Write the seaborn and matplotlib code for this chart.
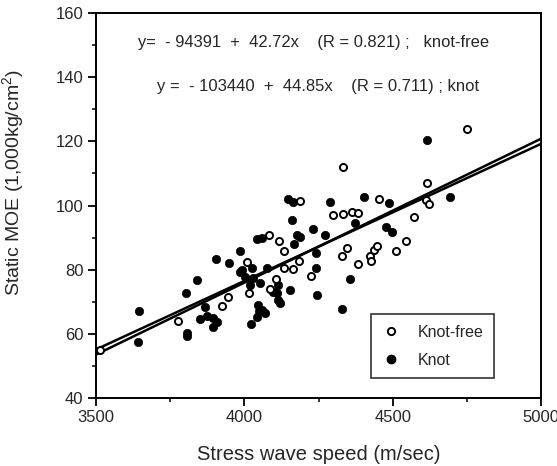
import numpy as np
import pandas as pd
import matplotlib
matplotlib.use("Agg")
import matplotlib.pyplot as plt
from matplotlib.lines import Line2D
from matplotlib.ticker import MultipleLocator
import seaborn as sns

# ---- data ----
free_speed = [3515, 3778, 3926, 3946, 4008, 4017, 4084, 4118, 4135, 4106, 4087, 4135,
              4163, 4185, 4225, 4188, 4300, 4334, 4362, 4384, 4334, 4345, 4328, 4384,
              4424, 4427, 4437, 4448, 4455, 4511, 4544, 4572, 4612, 4622, 4617, 4752]
free_moe = [55.0, 64.0, 68.6, 71.5, 82.3, 72.7, 90.8, 88.8, 85.8, 77.1, 74.1, 80.6,
            80.1, 82.8, 78.1, 101.5, 97.0, 97.3, 98.1, 97.6, 112.0, 86.9, 84.2, 81.8,
            84.3, 82.7, 86.1, 87.3, 102.0, 85.9, 88.8, 96.3, 101.8, 100.6, 107.0, 124.0]

knot_speed = [3640, 3646, 3802, 3807, 3807, 3839, 3851, 3875, 3895, 3908, 3895, 3867,
              3904, 3949, 3985, 3991, 4025, 4002, 4030, 4019, 4053, 3985, 4042, 4058,
              4075, 4115, 4154, 4109, 4115, 4047, 4049, 4044, 4058, 4070, 4022, 4120,
              4168, 4177, 4189, 4160, 4148, 4165, 4233, 4273, 4289, 4243, 4241, 4246,
              4357, 4329, 4373, 4405, 4477, 4499, 4489, 4616, 4693, 4098]
knot_moe = [57.5, 67.2, 72.7, 60.4, 59.3, 76.7, 64.5, 65.5, 64.8, 63.8, 62.0, 68.5,
            83.2, 82.2, 85.7, 79.9, 80.4, 77.8, 77.3, 75.2, 75.7, 79.4, 89.5, 89.8,
            80.6, 75.2, 73.7, 72.6, 70.5, 69.0, 67.1, 65.3, 67.4, 66.6, 63.0, 69.6,
            88.0, 90.8, 90.3, 95.4, 102.0, 101.0, 92.8, 90.8, 101.0, 85.2, 80.5, 72.1,
            77.2, 67.8, 94.6, 102.6, 93.4, 91.8, 100.7, 120.3, 102.6, 73.1]

# regression equations printed on the chart (y in kg/cm2, x in m/sec)
free_coef = [-94391, 42.72]
knot_coef = [-103440, 44.85]
line_x = [3500, 5000]

eq_free = "y=  - 94391  +  42.72x    (R = 0.821) ;   knot-free"
eq_knot = "y =  - 103440  +  44.85x    (R = 0.711) ; knot"

x_ticks = [3500, 4000, 4500, 5000]
y_ticks = [40, 60, 80, 100, 120, 140, 160]
x_label = "Stress wave speed (m/sec)"
y_label = "Static MOE (1,000kg/cm$^2$)"
legend_labels = ["Knot-free", "Knot"]

# ---- plot ----
sns.set_theme(style="white")
plt.rcParams["font.family"] = ["Liberation Sans", "DejaVu Sans"]
plt.rcParams["mathtext.fontset"] = "custom"
plt.rcParams["mathtext.rm"] = "Liberation Sans"

fig = plt.figure(figsize=(5.57, 4.66), dpi=100)
ax = fig.add_axes([96 / 557, 1 - 398 / 466, 445 / 557, 385 / 466])

df_free = pd.DataFrame({"speed": free_speed, "moe": free_moe})
df_knot = pd.DataFrame({"speed": knot_speed, "moe": knot_moe})

lx = np.array(line_x, dtype=float)
df_lines = pd.DataFrame({
    "speed": np.concatenate([lx, lx]),
    "moe": np.concatenate([(free_coef[0] + free_coef[1] * lx) / 1000,
                           (knot_coef[0] + knot_coef[1] * lx) / 1000]),
    "grp": ["free", "free", "knot", "knot"],
})
sns.lineplot(data=df_lines, x="speed", y="moe", units="grp", estimator=None,
             color="black", lw=1.8, ax=ax, legend=False, zorder=2)

sns.scatterplot(data=df_knot, x="speed", y="moe", ax=ax, s=36, color="black",
                edgecolor="black", linewidth=0.5, zorder=3, legend=False)
sns.scatterplot(data=df_free, x="speed", y="moe", ax=ax, s=26, facecolor="white",
                edgecolor="black", linewidth=1.4, zorder=4, legend=False)

ax.set_xlim(3500, 5000)
ax.set_ylim(40, 160)
ax.set_xticks(x_ticks)
ax.set_yticks(y_ticks)
ax.xaxis.set_minor_locator(MultipleLocator(250))
ax.yaxis.set_minor_locator(MultipleLocator(10))
ax.tick_params(axis="both", which="major", direction="out", length=6, width=1.3,
               color="black", labelsize=12, pad=3, bottom=True, left=True,
               top=False, right=False)
ax.tick_params(axis="both", which="minor", direction="out", length=3, width=1.1,
               color="black", bottom=True, left=True, top=False, right=False)
for sp in ax.spines.values():
    sp.set_visible(True)
    sp.set_color("black")
    sp.set_linewidth(1.4)

ax.set_xlabel(x_label, fontsize=14.5, labelpad=14)
ax.set_ylabel(y_label, fontsize=14, labelpad=10)
ax.yaxis.set_label_coords(-0.155, 0.56)

ax.text(138, 466 - 43, eq_free, transform=None, fontsize=11.9, va="center", ha="left")
ax.text(157, 466 - 87, eq_knot, transform=None, fontsize=12, va="center", ha="left")

handles = [
    Line2D([], [], ls="none", marker="o", markersize=5.2, markerfacecolor="white",
           markeredgecolor="black", markeredgewidth=1.4),
    Line2D([], [], ls="none", marker="o", markersize=6, markerfacecolor="black",
           markeredgecolor="black"),
]
leg = ax.legend(handles, legend_labels, loc="lower left",
                bbox_to_anchor=(0.618, 0.052), frameon=True, fancybox=False,
                fontsize=11.5, handlelength=1.2, handletextpad=1.1,
                borderpad=0.65, labelspacing=0.8, borderaxespad=0)
leg.get_frame().set_edgecolor("black")
leg.get_frame().set_linewidth(1.2)

fig.savefig("out.png", dpi=100)
